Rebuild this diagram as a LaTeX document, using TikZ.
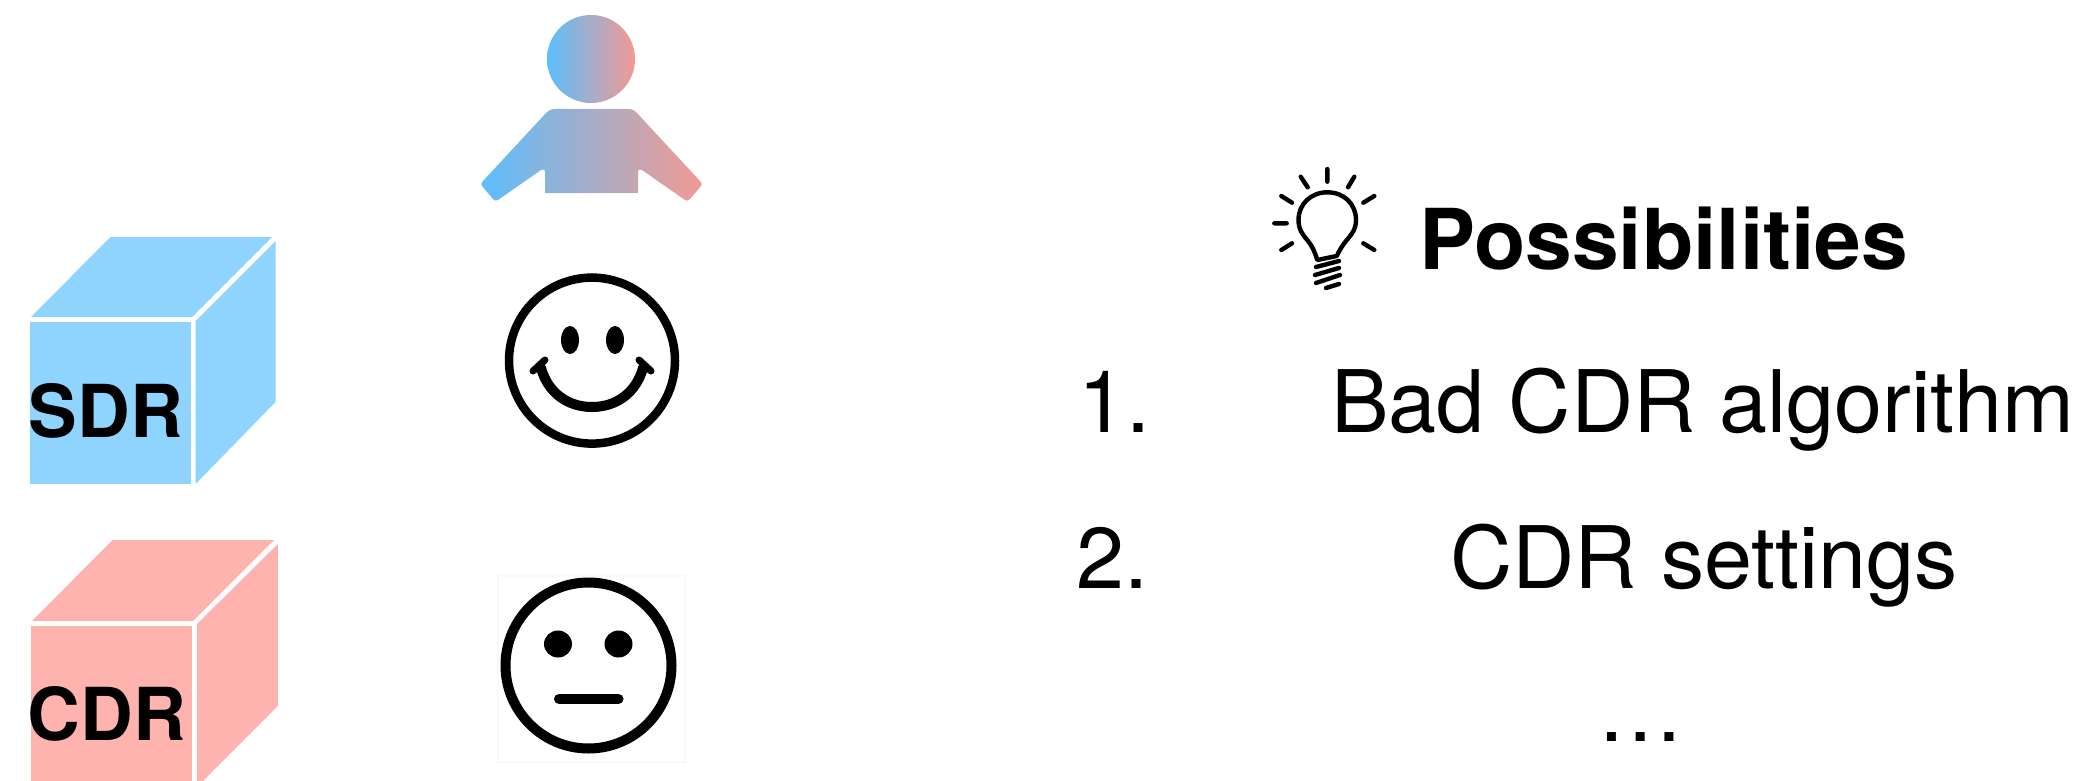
\documentclass[tikz,border=0pt]{standalone}
\usepackage{fontspec}
\setmainfont{TeX Gyre Heros}
\definecolor{sdrblue}{HTML}{8FD4FF}
\definecolor{cdrpink}{HTML}{FFB3AE}
\definecolor{gradL}{HTML}{5CBEFD}
\definecolor{gradR}{HTML}{F29A92}
\tikzset{
  person/.style={left color=gradL,right color=gradR,draw=none},
  boxlabel/.style={inner sep=0pt,anchor=base west,font=\fontsize{73}{73}\selectfont\bfseries},
  bighead/.style={inner sep=0pt,anchor=base west,font=\fontsize{84}{84}\selectfont\bfseries},
  listitem/.style={inner sep=0pt,anchor=base west,font=\fontsize{86.3}{86.3}\selectfont},
  ink/.style={draw=black,line cap=round,line join=round},
}
\begin{document}
\begin{tikzpicture}[x=1pt,y=-1pt]
\useasboundingbox (0,0) rectangle (2080,781);
% person
\shade[person] (591,59) circle[radius=44];
\shade[person] (556,109) -- (628,109) .. controls (632,109) and (634,110) .. (636,112) -- (700,181) .. controls (702,183) and (702,185) .. (701,186) -- (690,199) .. controls (688,201) and (687,201) .. (685,200) -- (642,170) .. controls (640,169) and (638,169) .. (638,172) -- (638,193) -- (545,193) -- (545,172) .. controls (545,169) and (543,169) .. (541,170) -- (498,200) .. controls (496,201) and (495,201) .. (493,199) -- (482,186) .. controls (481,185) and (481,183) .. (483,181) -- (547,112) .. controls (549,110) and (551,109) .. (556,109) -- cycle;
% SDR cube
\fill[sdrblue] (30,322) rectangle (191,484);
\fill[sdrblue] (31,317) -- (110.5,237) -- (272,237) -- (192,317) -- cycle;
\fill[sdrblue] (195.6,321) -- (275.5,241) -- (275.5,402) -- (195.6,484) -- cycle;
\node[boxlabel] (sdr) at (28.5,437) {SDR};
% CDR cube
\fill[cdrpink] (31,626) rectangle (192,781);
\fill[cdrpink] (32,621) -- (112.5,540) -- (274,540) -- (193,621) -- cycle;
\fill[cdrpink] (197,624) -- (277.8,544) -- (277.8,706) -- (203,781) -- (197,781) -- cycle;
\node[boxlabel] (cdr) at (27.5,740) {CDR};
% happy face
\draw[black,line width=8.5pt] (592,360.6) circle[radius=83];
\fill[black] (570,340) ellipse[x radius=9,y radius=14];
\fill[black] (615,340) ellipse[x radius=9,y radius=14];
\draw[black,line cap=round,line width=10pt] (541,368) .. controls (548,393) and (568,407) .. (592,407) .. controls (616,407) and (636,393) .. (643,368);
\draw[ink,line width=7pt] (533,371) -- (545,360);
\draw[ink,line width=7pt] (651,371) -- (639,360);
% neutral face
\fill[black!2.5] (497,575) rectangle (686,763);
\fill[white] (499,577) rectangle (684,761);
\draw[black,line width=10pt] (588.5,665.5) circle[radius=83];
\fill[black] (558,644) ellipse[x radius=14,y radius=13.5];
\fill[black] (618.5,644) ellipse[x radius=14,y radius=13.5];
\draw[ink,line width=10pt] (559,699) -- (618.5,699);
% bulb
\draw[ink,line width=4.4pt] (1327.3,169) -- (1327.3,181.7)
  (1300.7,176.7) -- (1307.7,187.3) (1354.3,176.7) -- (1348,187.3)
  (1281.3,196) -- (1292,202.7) (1374.3,196) -- (1363.3,202.7)
  (1274.3,223.3) -- (1286.7,223.3)
  (1281.3,250) -- (1292,243.3) (1374.3,250) -- (1363.3,243.3);
\draw[ink,line width=4.4pt] (1317.3,260) .. controls (1314,250) and (1312,246) .. (1308,241) .. controls (1303,235) and (1298.5,230) .. (1298.5,220) .. controls (1298.5,204) and (1311,192.3) .. (1327.3,192.3) .. controls (1344,192.3) and (1356,204) .. (1356,220) .. controls (1356,230) and (1351,235) .. (1346,241) .. controls (1342,246) and (1339,251) .. (1336.7,256) -- cycle;
\draw[ink,line width=4.4pt] (1316,267) -- (1339,261) (1315,275) -- (1339,268) (1316,283) -- (1340,275) (1326,288) -- (1339,284);
% text
\node[bighead] (poss) at (1419,269) {Possibilities};
\node[listitem] (n1) at (1078,432) {1.};
\node[listitem] (t1) at (1331,432) {Bad CDR algorithm};
\node[listitem] (n2) at (1076,588) {2.};
\node[listitem] (t2) at (1450,588) {CDR settings};
\node[listitem] (dots) at (1597,741) {…};
\end{tikzpicture}
\end{document}
